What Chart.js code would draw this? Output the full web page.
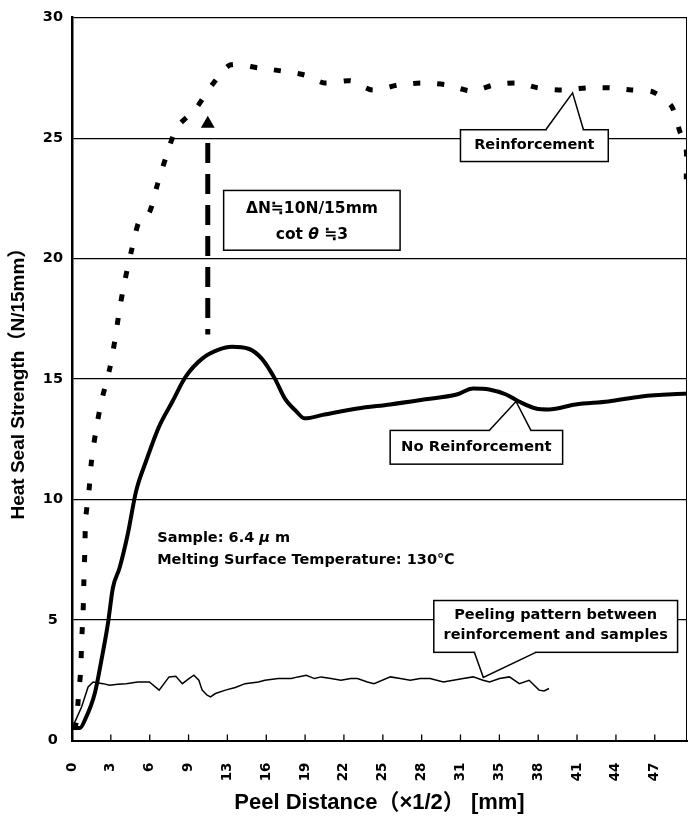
<!DOCTYPE html>
<html>
<head>
<meta charset="utf-8">
<script src="https://cdn.jsdelivr.net/npm/chart.js@4.4.0/dist/chart.umd.min.js"></script>
<style>
html, body { margin: 0; padding: 0; background: #fff; }
canvas { display: block; }
</style>
</head>
<body>
<canvas id="myChart" width="695" height="822"></canvas>
<script>
// x axis: tick positions and the labels printed under them
var xTickValues = [0, 3.13, 6.27, 9.4, 12.53, 15.67, 18.8, 21.93, 25.07, 28.2, 31.33, 34.47, 37.6, 40.73, 43.87, 47];
var xTickLabels = ['0', '3', '6', '9', '13', '16', '19', '22', '25', '28', '31', '35', '38', '41', '44', '47'];

// Reinforcement (dotted)
var reinfX = [0.2, 0.38, 0.5, 0.7, 0.78, 0.9, 0.96, 1.04, 1.1, 1.38, 1.57, 1.92, 2.37, 3.04, 3.44, 3.84, 4.24, 4.77, 5.44, 6.24,
              6.87, 7.57, 8.47, 9.97, 11.3, 12.77, 15.03, 16.87, 18.76, 20.36, 22.49, 24.22, 26.35, 28.22, 30.22, 32.21, 34.05,
              35.95, 37.55, 39.54, 41.54, 43.41, 45.14, 46.84, 48.34, 49.0, 49.54, 49.54];
var reinfY = [0.45, 0.85, 1.68, 2.91, 4.15, 5.39, 6.63, 7.95, 9.19, 10.43, 11.59, 12.83, 14.07, 15.43, 16.55, 17.91, 19.03, 20.27, 21.59, 21.92,
              23.04, 24.2, 25.45, 26.22, 27.21, 28.04, 27.92, 27.79, 27.62, 27.29, 27.38, 27.0, 27.21, 27.29, 27.21, 26.96, 27.21,
              27.29, 27.09, 27.0, 27.09, 27.09, 27.0, 26.92, 26.34, 25.31, 24.52, 23.29];

// No Reinforcement (thick solid)
var noReinfX = [0, 0.64, 1.04, 1.84, 2.37, 2.9, 3.3, 3.84, 4.5, 5.17, 5.97, 7.03, 8.1, 9.17, 10.5, 11.83, 12.89, 14.23, 15.3, 16.36,
                17.16, 18.09, 18.76, 20.36, 23.02, 25.66, 28.35, 31.02, 32.35, 33.65, 35.01, 36.05, 37.41, 38.45, 40.61, 43.25, 45.94, 49.64];
var noReinfY = [0.52, 0.52, 0.85, 1.96, 3.33, 4.86, 6.34, 7.17, 8.57, 10.35, 11.59, 13.04, 14.07, 15.1, 15.85, 16.22, 16.34, 16.26, 15.85, 15.02,
                14.2, 13.66, 13.37, 13.53, 13.78, 13.95, 14.15, 14.36, 14.61, 14.57, 14.36, 14.07, 13.78, 13.74, 13.95, 14.07, 14.28, 14.4];

// Peeling pattern between reinforcement and samples (thin)
var peelX = [0, 0.78, 1.3, 1.7, 2.5, 3.04, 3.7, 4.37, 5.3, 6.24, 7.03, 7.83, 8.37, 8.9, 9.43, 9.83, 10.23, 10.5, 10.9, 11.17, 11.57,
             12.37, 13.17, 13.96, 15.03, 15.56, 16.63, 17.69, 18.23, 18.89, 19.56, 20.09, 20.89, 21.69, 22.49, 23.02, 23.82, 24.36,
             25.68, 26.48, 27.28, 28.08, 28.88, 29.95, 30.75, 31.55, 32.35, 33.15, 33.68, 34.48, 35.28, 36.08, 36.87, 37.67, 38.07, 38.47];
var peelY = [0.5, 1.4, 2.22, 2.43, 2.36, 2.29, 2.33, 2.36, 2.43, 2.43, 2.09, 2.64, 2.67, 2.36, 2.57, 2.71, 2.5, 2.09, 1.88, 1.81, 1.95,
             2.09, 2.2, 2.36, 2.43, 2.5, 2.57, 2.57, 2.64, 2.71, 2.57, 2.64, 2.57, 2.5, 2.57, 2.57, 2.43, 2.36,
             2.64, 2.57, 2.5, 2.57, 2.57, 2.43, 2.5, 2.57, 2.64, 2.5, 2.43, 2.57, 2.64, 2.36, 2.5, 2.09, 2.06, 2.16];

// ΔN marker: dashed drop line and triangle
var deltaX = 10.95;
var deltaY = [24.8, 16.85];
var peakY = 25.6;

function toPoints(xs, ys) {
    return xs.map(function(x, i) { return { x: x, y: ys[i] }; });
}

var FAM = '"DejaVu Sans", "Noto Sans CJK JP", sans-serif';

function richText(ctx, segs, cx, cy, size) {
    var total = 0;
    var widths = segs.map(function(s) {
        ctx.font = (s[1] ? 'italic ' : '') + 'bold ' + size + 'px ' + FAM;
        var w = ctx.measureText(s[0]).width;
        total += w;
        return w;
    });
    var x = cx - total / 2;
    ctx.textAlign = 'left';
    ctx.textBaseline = 'middle';
    segs.forEach(function(s, i) {
        ctx.font = (s[1] ? 'italic ' : '') + 'bold ' + size + 'px ' + FAM;
        ctx.fillText(s[0], x, cy);
        x += widths[i];
    });
}

function callout(ctx, x1, y1, x2, y2, ptr) {
    ctx.fillStyle = '#fff';
    ctx.strokeStyle = '#000';
    ctx.lineWidth = 1.5;
    ctx.fillRect(x1, y1, x2 - x1, y2 - y1);
    ctx.strokeRect(x1, y1, x2 - x1, y2 - y1);
    if (ptr) {
        ctx.fillRect(ptr.a + 1, ptr.base - 1.5, ptr.b - ptr.a - 2, 3);
        ctx.beginPath();
        ctx.moveTo(ptr.a, ptr.base);
        ctx.lineTo(ptr.tx, ptr.ty);
        ctx.lineTo(ptr.b, ptr.base);
        ctx.fill();
        ctx.stroke();
    }
    ctx.fillStyle = '#000';
}

var notes = {
    id: 'notes',
    afterDatasetsDraw: function(chart) {
        var ctx = chart.ctx, a = chart.chartArea;
        var xs = chart.scales.x, ys = chart.scales.y;
        var px = function(v) { return xs.getPixelForValue(v); };
        var py = function(v) { return ys.getPixelForValue(v); };
        ctx.save();

        // small tick marks pointing into the plot
        ctx.strokeStyle = '#000';
        ctx.lineWidth = 1.3;
        xTickValues.forEach(function(v) {
            var x = px(v);
            ctx.beginPath();
            ctx.moveTo(x, a.bottom);
            ctx.lineTo(x, a.bottom - 6);
            ctx.stroke();
        });
        // right frame
        ctx.lineWidth = 1;
        ctx.beginPath();
        ctx.moveTo(a.right - 0.5, a.top);
        ctx.lineTo(a.right - 0.5, a.bottom);
        ctx.stroke();

        // ΔN box
        callout(ctx, px(12.23), py(22.83), px(26.46), py(20.35));
        richText(ctx, [['ΔN≒10N/15mm', false]], px(19.35), py(22.05), 15.5);
        richText(ctx, [['cot ', false], ['θ', true], [' ≒3', false]], px(19.35), py(21.0), 15.5);

        // Reinforcement
        callout(ctx, px(31.33), py(25.35), px(43.25), py(24.03),
            { a: px(38.21), b: px(41.25), base: py(25.35), tx: px(40.37), ty: py(26.88) });
        richText(ctx, [['Reinforcement', false]], px(37.29), py(24.69), 14.5);

        // No Reinforcement
        callout(ctx, px(25.66), py(12.87), px(39.57), py(11.47),
            { a: px(33.65), b: px(37.01), base: py(12.87), tx: px(35.81), ty: py(14.07) });
        richText(ctx, [['No Reinforcement', false]], px(32.61), py(12.17), 14.8);

        // Peeling pattern
        callout(ctx, px(29.18), py(5.81), px(48.84), py(3.66),
            { a: px(32.45), b: px(37.41), base: py(3.66), tx: px(33.17), ty: py(2.62) });
        richText(ctx, [['Peeling pattern between', false]], px(39.01), py(5.2), 14.5);
        richText(ctx, [['reinforcement and samples', false]], px(39.01), py(4.36), 14.5);

        // sample notes
        ctx.textAlign = 'left';
        ctx.textBaseline = 'middle';
        var sx = px(6.87);
        var fs = 'bold 14.5px ' + FAM;
        ctx.font = fs;
        var s1 = 'Sample: 6.4 ';
        ctx.fillText(s1, sx, py(8.4));
        var w1 = ctx.measureText(s1).width;
        ctx.font = 'italic ' + fs;
        ctx.fillText('μ', sx + w1, py(8.4));
        var w2 = ctx.measureText('μ').width;
        ctx.font = fs;
        ctx.fillText(' m', sx + w1 + w2, py(8.4));
        ctx.fillText('Melting Surface Temperature: 130℃', sx, py(7.5));

        ctx.restore();
    }
};

new Chart(document.getElementById('myChart'), {
    type: 'line',
    data: {
        datasets: [
            {
                label: 'Reinforcement',
                data: toPoints(reinfX, reinfY),
                borderColor: '#000',
                borderWidth: 5,
                borderDash: [7, 17],
                pointRadius: 0,
                tension: 0.25,
                fill: false
            },
            {
                label: 'No Reinforcement',
                data: toPoints(noReinfX, noReinfY),
                borderColor: '#000',
                borderWidth: 4,
                pointRadius: 0,
                cubicInterpolationMode: 'monotone',
                fill: false
            },
            {
                label: 'Peeling pattern between reinforcement and samples',
                data: toPoints(peelX, peelY),
                borderColor: '#000',
                borderWidth: 1.5,
                pointRadius: 0,
                tension: 0,
                fill: false
            },
            {
                label: 'ΔN',
                data: deltaY.map(function(y) { return { x: deltaX, y: y }; }),
                borderColor: '#000',
                borderWidth: 5,
                borderDash: [20, 11],
                pointRadius: 0,
                fill: false
            },
            {
                label: 'peak',
                data: [{ x: deltaX, y: peakY }],
                showLine: false,
                pointStyle: 'triangle',
                pointRadius: 8,
                backgroundColor: '#000',
                borderColor: '#000',
                borderWidth: 0
            }
        ]
    },
    options: {
        responsive: false,
        animation: false,
        layout: { padding: { top: 14, right: 2, left: 0, bottom: 0 } },
        plugins: {
            legend: { display: false },
            tooltip: { enabled: false }
        },
        scales: {
            x: {
                type: 'linear',
                min: 0,
                max: 49.6,
                afterFit: function(scale) { scale.height = 81.5; },
                afterBuildTicks: function(scale) {
                    scale.ticks = xTickValues.map(function(v) { return { value: v }; });
                },
                grid: { display: false, drawTicks: false },
                border: { display: true, color: '#000', width: 2 },
                ticks: {
                    autoSkip: false,
                    minRotation: 90,
                    maxRotation: 90,
                    padding: 22,
                    color: '#000',
                    font: { family: FAM, size: 13.5, weight: 'bold' },
                    callback: function(value, index) { return xTickLabels[index]; }
                },
                title: {
                    display: true,
                    text: 'Peel Distance（×1/2） [mm]',
                    color: '#000',
                    font: { family: '"Liberation Sans", "Noto Sans CJK JP", sans-serif', size: 22, weight: 'bold' },
                    padding: { top: 0, bottom: 6 }
                }
            },
            y: {
                min: 0,
                max: 30,
                afterFit: function(scale) { scale.width = 72; },
                grid: { color: '#000', lineWidth: 1.2, drawTicks: false },
                border: { display: true, color: '#000', width: 2.5 },
                ticks: {
                    stepSize: 5,
                    padding: 9,
                    crossAlign: 'center',
                    color: '#000',
                    font: { family: FAM, size: 14.5, weight: 'bold' }
                },
                title: {
                    display: true,
                    text: 'Heat Seal Strength（N/15mm）',
                    color: '#000',
                    font: { family: '"Liberation Sans", "Noto Sans CJK JP", sans-serif', size: 19, weight: 'bold' },
                    padding: { top: 7, bottom: 0 }
                }
            }
        }
    },
    plugins: [notes]
});
</script>
</body>
</html>
